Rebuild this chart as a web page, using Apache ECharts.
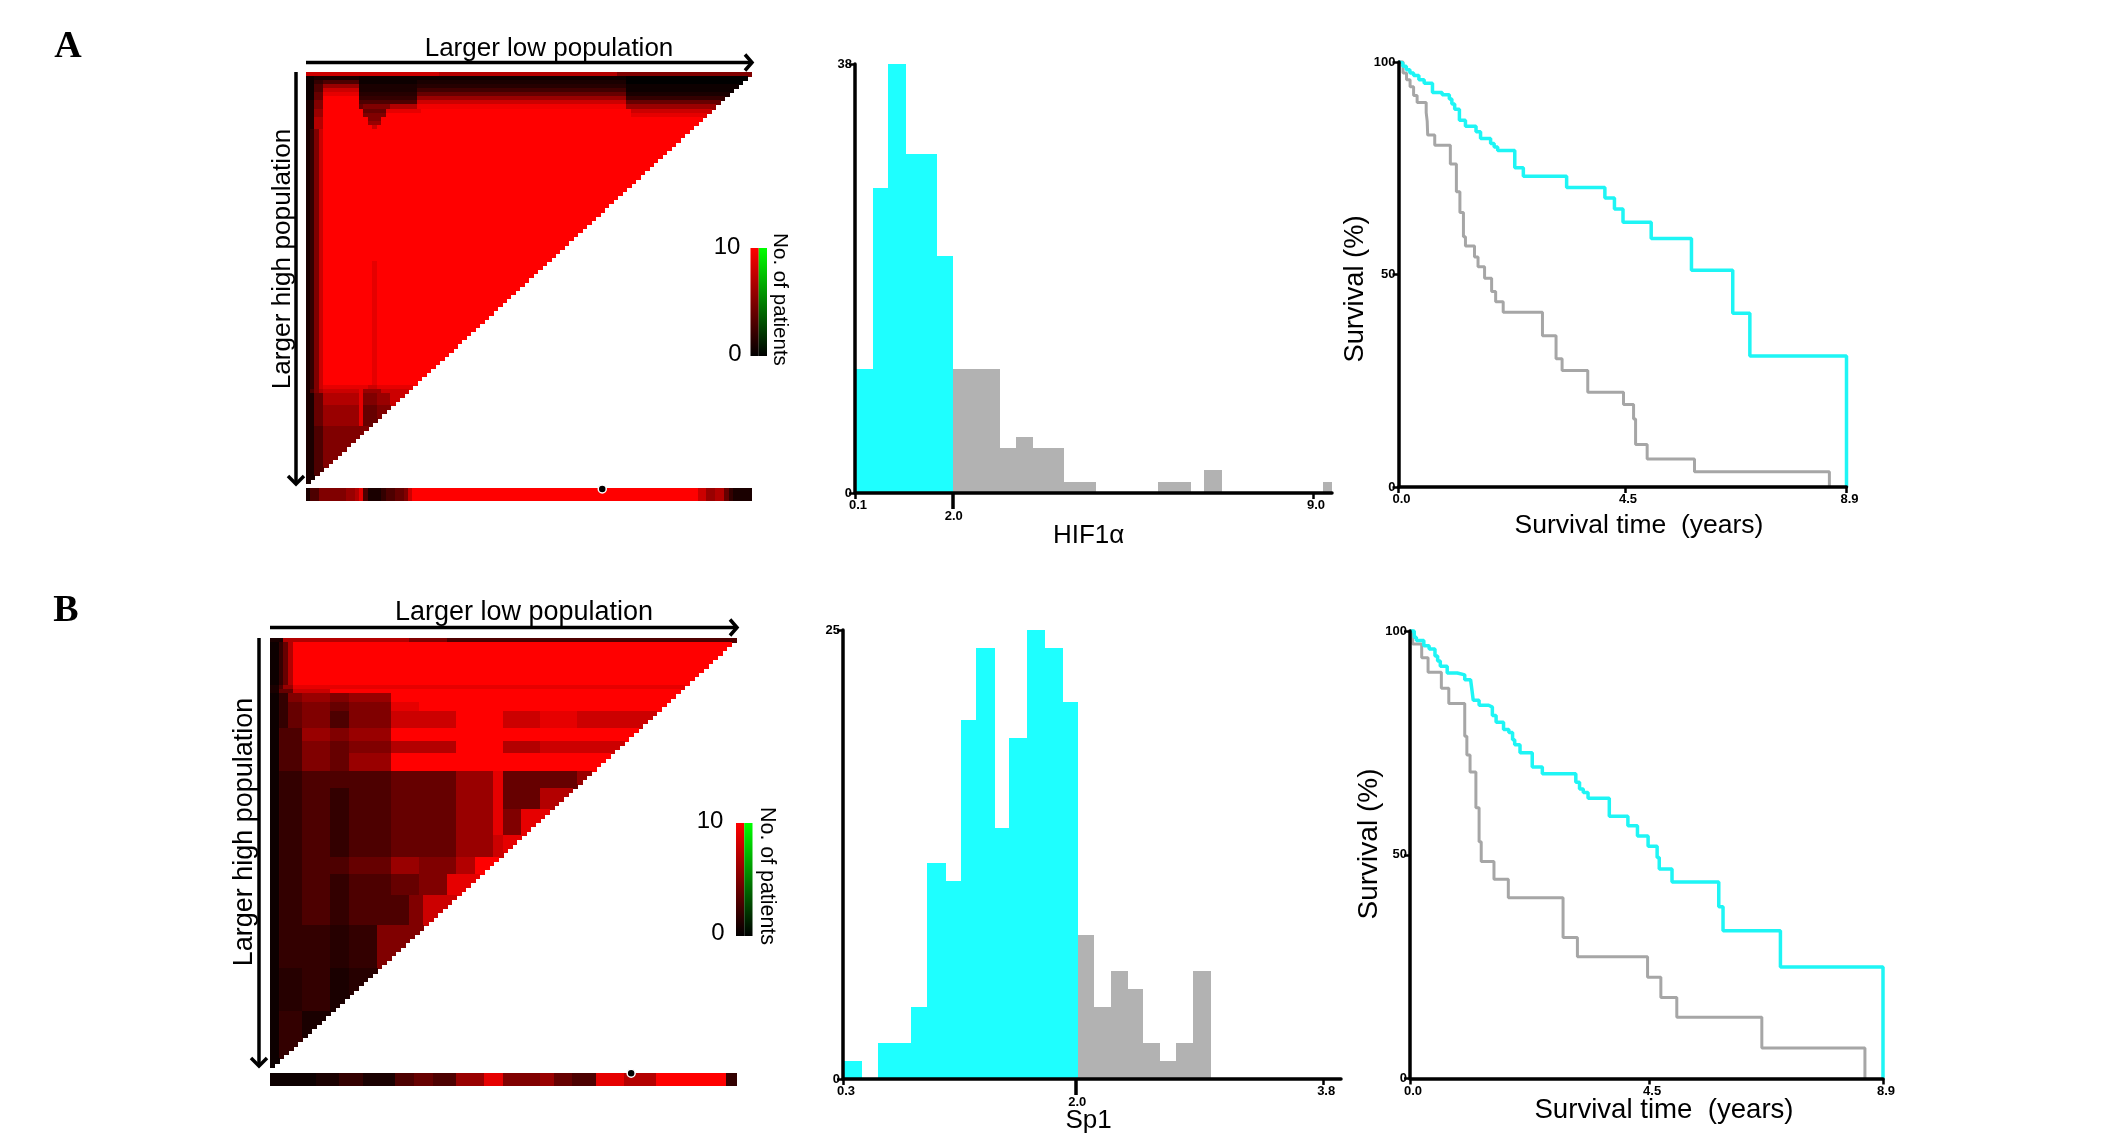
<!DOCTYPE html>
<html>
<head>
<meta charset="utf-8">
<style>html,body{margin:0;padding:0;background:#fff}#c{width:2126px;height:1145px}</style>
<script src="https://cdn.jsdelivr.net/npm/echarts@6/dist/echarts.min.js"></script>
</head>
<body>
<div id="c"></div>
<script>
// ---------- DATA ----------
// Heat tables: [number of rows, "value*run value*run ..."], values 0-10.
const heatRowsA = [
 [1,"8*30 7*40 5*30"],
 [1,"0.5*2 1*10 0.5*13 0.5*47 0*28"],
 [1,"0.5*2 2*2 3*8 0.5*13 1*47 0*28"],
 [1,"0.5*2 3*2 6*8 1*13 1.5*47 0.5*28"],
 [1,"0.5*2 3*2 8*8 1*13 2.5*47 0.5*28"],
 [1,"0.5*2 4*2 9*8 1.5*13 4*47 1*28"],
 [1,"0.5*2 4*2 10*8 2*13 6*47 2*28"],
 [1,"1*2 5*2 10*8 3*2 3*11 8*47 4*28"],
 [1,"1*2 5*2 10*8 4*1 5*6 7*6 9.5*47 6*28"],
 [1,"1*2 6*2 10*9 4*5 9*8 10*47 8*28"],
 [1,"1*2 6*2 10*9 5*5 10*55 9*27"],
 [1,"1*2 7*2 10*10 5*3 10*83"],
 [1,"1*2 7*2 10*10 6*3 10*83"],
 [1,"1*2 7*2 10*11 8*1 10*84"],
 [32,"1*1 2*1 5*1 8*1 10*96"],
 [30,"1*1 2*1 5*1 8*1 10*11 9*1 10*84"],
 [1,"1*1 2*1 5*1 8*1 9*10 8*2 9*84"],
 [1,"1*1 3*1 5*1 7*1 8*8 9*1 6*4 8*6 9*77"],
 [3,"1*2 4*2 7*8 9*1 5*3 6*3 8*81"],
 [5,"1*2 4*2 6*8 9*1 4*3 5*80"],
 [14,"1*2 3*2 5*8 5*88"]
];
const heatRowsB = [
 [1,"1*3 7*27 5*8 3*62"],
 [10,"0.5*2 2*1 4*1 7*1 10*95"],
 [1,"1*2 3*1 6*2 9*95"],
 [1,"1*2 4*3 8*8 10*87"],
 [2,"0.5*2 2*2 5*3 6*6 5*4 6*9 10*74"],
 [2,"0.5*2 2*2 4*3 5*6 4*4 5*9 9*6 10*68"],
 [4,"0.5*2 2*2 4*3 5*6 3*4 5*9 8*6 8*8 10*10 8*8 9*8 8*12 8*22"],
 [3,"0.5*2 3*5 6*6 5*4 6*9 10*74"],
 [3,"0.5*2 3*5 5*6 4*4 5*9 7*14 10*10 7*8 8*8 8*12 9*22"],
 [4,"0.5*2 3*5 5*6 4*4 6*9 10*74"],
 [4,"0.5*2 2*5 3*6 3*4 3*9 4*6 4*8 6*8 9*2 4*8 4*8 6*4 9*30"],
 [5,"0.5*2 2*5 3*6 2*4 3*9 4*6 4*8 6*8 9*2 4*8 7*42"],
 [6,"0.5*2 2*5 3*6 2*4 3*9 4*6 4*8 6*8 9*2 5*4 9*46"],
 [5,"0.5*2 2*5 3*6 2*4 3*9 4*6 4*8 6*8 8*2 9*50"],
 [4,"0.5*2 2*5 3*6 3*4 4*9 6*6 5*8 7*4 10*60"],
 [5,"0.5*2 2*5 3*6 2*4 3*9 4*6 5*6 9*60"],
 [7,"0.5*2 2*5 3*6 2*4 3*9 3*4 5*3 8*70"],
 [10,"0.5*2 2*5 2*6 1.5*4 2*6 5*77"],
 [10,"0.5*2 1.5*5 2*6 1*4 1.5*9 3*74"],
 [14,"0.5*2 2*5 1*6 1*87"]
];
const stripRowA = "1*1 3*2 5*1 5*5 6*2 7*1 9*1 3*1 1*3 2*1 3*2 4*2 5*1 8*1 10*64 8*2 6*2 7*2 4*1 2*1 1*4";
const stripRowB = "0.5*10 1*5 2*5 1*7 3*4 4*4 3*5 6*6 9*4 5*8 6*3 4*4 3*5 9*6 7*7 10*15 2*2";
const cutColA = 66, cutColB = 77;

const histLowA  = [[0.1,0.447,11],[0.447,0.745,27],[0.745,1.09,38],[1.09,1.7,30],[1.7,2.01,21]];
const histHighA = [[2.01,2.92,11],[2.92,3.22,4],[3.22,3.55,5],[3.55,4.17,4],[4.17,4.78,1],[5.98,6.63,1],[6.89,7.23,2],[9.2,9.37,1]];
const histLowB  = [[0.3,0.44,1],[0.555,0.795,2],[0.795,0.915,4],[0.915,1.05,12],[1.05,1.16,11],[1.16,1.27,20],[1.27,1.41,24],[1.41,1.51,14],[1.51,1.64,19],[1.64,1.77,25],[1.77,1.9,24],[1.9,2.01,21]];
const histHighB = [[2.01,2.13,8],[2.13,2.25,4],[2.25,2.375,6],[2.375,2.49,5],[2.49,2.61,2],[2.61,2.73,1],[2.73,2.85,2],[2.85,2.98,6]];

const survLowA = [[0,100],[0.01,99.8],[0.085,99],[0.156,98.2],[0.227,97.4],[0.3,96.8],[0.405,95.8],[0.51,95],[0.675,92.8],[0.867,92.3],[1.01,91.3],[1.06,90.1],[1.116,88.9],[1.21,86.3],[1.33,84.9],[1.54,83.6],[1.63,82],[1.83,80.8],[1.9,80],[1.97,79.2],[2.31,75.1],[2.48,73.1],[3.34,70.5],[4.1,68],[4.29,65.4],[4.46,62.3],[5.02,58.5],[5.82,51],[6.64,40.9],[6.98,30.8],[8.9,0]];
const survHighA = [[0,100],[0.09,97.4],[0.16,95.8],[0.23,94.2],[0.3,92.1],[0.37,90.5],[0.55,88.1],[0.57,86.1],[0.58,82.8],[0.72,80.4],[1.03,76],[1.15,69.5],[1.22,64.6],[1.29,58.9],[1.33,56.7],[1.51,54.1],[1.58,51.8],[1.71,49.1],[1.85,46],[1.93,43.6],[2.08,41.1],[2.86,35.6],[3.13,30.2],[3.25,27.4],[3.76,22.3],[4.47,19.4],[4.67,16],[4.71,10],[4.94,6.6],[5.88,3.6],[8.56,0]];
const survLowB = [[0,100],[0.08,98.6],[0.12,97.9],[0.26,96.7],[0.36,96],[0.47,94.4],[0.52,93.3],[0.57,92.1],[0.7,90.6],[0.89,90.2],[1.03,89.1],[1.14,88.7],[1.17,86.4],[1.19,84.5],[1.3,83.4],[1.48,83],[1.55,81.1],[1.62,79.6],[1.76,78],[1.86,77.3],[1.93,75.7],[1.97,74.6],[2.07,72.8],[2.3,69.6],[2.49,68.1],[3.12,66.2],[3.19,64.7],[3.26,63.9],[3.35,62.6],[3.75,58.6],[4.1,56.5],[4.28,54.2],[4.48,51.9],[4.65,49.4],[4.69,46.8],[4.93,43.9],[5.81,38.4],[5.89,33],[6.97,24.9],[8.9,0]];
const survHighB = [[0,100],[0.05,97.1],[0.22,94],[0.34,90.8],[0.59,87.2],[0.73,83.8],[1.03,76.5],[1.07,72.3],[1.13,68.5],[1.24,60.5],[1.3,52.9],[1.34,48.5],[1.58,44.5],[1.85,40.4],[2.88,31.5],[3.15,27.2],[4.47,22.6],[4.72,18.1],[5.02,13.7],[6.62,6.8],[8.56,0]];

const ticksHistXA = [0.1, 9.0], cutTickA = [2.0], ticksHistYA = [0, 38];
const ticksHistXB = [0.3, 3.8], cutTickB = [2.0], ticksHistYB = [0, 25];
const ticksSurvX = [0.0, 4.5, 8.9], ticksSurvY = [0, 50, 100];

// ---------- BUILD ----------
const CYAN = '#1effff', GREY = '#b2b2b2', LINE_C = '#1ef5f5', LINE_G = '#a6a6a6';
const N = 100;
const idx = Array.from({length:N},(_,i)=>i);

function expand(str){
  const out=[];
  str.trim().split(/\s+/).forEach(t=>{const [v,n]=t.split('*');for(let i=0;i<+n;i++)out.push(+v);});
  return out;
}
function triangle(table){
  const cells=[];let r=0;
  table.forEach(([count,str])=>{
    const vals=expand(str);
    for(let k=0;k<count&&r<N;k++,r++){
      for(let c=0;c<N-r;c++) cells.push([c,r,vals[Math.min(c,vals.length-1)]]);
    }
  });
  return cells;
}
const grids=[],xAxes=[],yAxes=[],series=[],graphics=[];
const heatSeries=[];
const BOLD={fontFamily:'"Liberation Sans",Arial,sans-serif',fontWeight:'bold',fontSize:13,color:'#000'};
const SANS='"Liberation Sans",Arial,sans-serif';

function addGrid(l,r,t,b){grids.push({left:l,top:t,width:r-l,height:b-t,containLabel:false});return grids.length-1;}
function cellItem(p,api){
  const c=api.coord([api.value(0),api.value(1)]),s=api.size([1,1]);
  const w=Math.abs(s[0]),h=Math.abs(s[1]);
  const x0=Math.floor(c[0]-w/2),y0=Math.floor(c[1]-h/2);
  return {type:'rect',silent:true,shape:{x:x0,y:y0,width:Math.ceil(c[0]+w/2)-x0,height:Math.ceil(c[1]+h/2)-y0},style:{fill:api.visual('color')}};
}
function heatSer(xi,yi,data){
  heatSeries.push(series.length);
  series.push({type:'custom',xAxisIndex:xi,yAxisIndex:yi,data,encode:{x:0,y:1},renderItem:cellItem,animation:false,silent:true,progressive:0,clip:false});
}
function heatPanel(box,stripBox,table,stripStr,cutCol,dotOff){
  let g=addGrid(box.l,box.r,box.t,box.b);
  xAxes.push({type:'category',gridIndex:g,data:idx,show:false});
  yAxes.push({type:'category',gridIndex:g,data:idx,inverse:true,show:false});
  heatSer(xAxes.length-1,yAxes.length-1,triangle(table));
  g=addGrid(stripBox.l,stripBox.r,stripBox.t,stripBox.b);
  xAxes.push({type:'category',gridIndex:g,data:idx,show:false});
  yAxes.push({type:'category',gridIndex:g,data:[0],show:false});
  const vals=expand(stripStr);
  heatSer(xAxes.length-1,yAxes.length-1,idx.map(c=>[c,0,vals[Math.min(c,vals.length-1)]]));
  series.push({type:'scatter',xAxisIndex:xAxes.length-1,yAxisIndex:yAxes.length-1,data:[[cutCol,0]],symbolSize:8,symbolOffset:[0,dotOff],z:5,clip:false,
    itemStyle:{color:'#000',borderColor:'#fff',borderWidth:1.5,opacity:1},animation:false});
}
function axisBase(){return{
  axisLine:{show:true,onZero:false,lineStyle:{color:'#000',width:3.5}},
  axisTick:{show:true,length:6,lineStyle:{color:'#000',width:2.5}},
  splitLine:{show:false},z:10
};}
const LABEL_SHIFT=[0,0,0,6];
function histPanel(box,xMin,xMax,xTicks,cutTick,yTicks,low,high){
  const g=addGrid(box.l,box.r,box.t,box.b);
  const a0=xAxes.length;
  xAxes.push(Object.assign(axisBase(),{type:'value',gridIndex:g,min:xMin,max:xMax,
    axisTick:{show:true,length:6,customValues:xTicks,lineStyle:{color:'#000',width:2.5}},
    axisLabel:Object.assign({margin:6,padding:LABEL_SHIFT,customValues:xTicks,formatter:v=>v.toFixed(1)},BOLD)}));
  xAxes.push({type:'value',gridIndex:g,min:xMin,max:xMax,position:'bottom',z:10,
    axisLine:{show:false,onZero:false},splitLine:{show:false},
    axisTick:{show:true,length:16,customValues:cutTick,lineStyle:{color:'#000',width:3.5}},
    axisLabel:Object.assign({margin:17,padding:[0,0,0,2],customValues:cutTick,formatter:v=>v.toFixed(1)},BOLD)});
  yAxes.push(Object.assign(axisBase(),{type:'value',gridIndex:g,min:0,max:yTicks[1],interval:yTicks[1],
    axisLabel:Object.assign({margin:3},BOLD)}));
  const y0=yAxes.length-1;
  [[low,CYAN],[high,GREY]].forEach(([d,col])=>{
    series.push({type:'custom',xAxisIndex:a0,yAxisIndex:y0,data:d,animation:false,
      encode:{x:[0,1],y:2},
      renderItem:(p,api)=>{
        const a=api.coord([api.value(0),api.value(2)]),b=api.coord([api.value(1),0]);
        const x0=Math.round(a[0]),x1=Math.round(b[0]),y0p=Math.round(a[1]);
        return {type:'rect',shape:{x:x0,y:y0p,width:x1-x0,height:Math.round(b[1])-y0p},style:{fill:col}};
      }});
  });
}
function survPanel(box,low,high){
  const g=addGrid(box.l,box.r,box.t,box.b);
  xAxes.push(Object.assign(axisBase(),{type:'value',gridIndex:g,min:0,max:8.9,
    axisTick:{show:true,length:6,customValues:ticksSurvX,lineStyle:{color:'#000',width:2.5}},
    axisLabel:Object.assign({margin:6,padding:LABEL_SHIFT,customValues:ticksSurvX,formatter:v=>v.toFixed(1)},BOLD)}));
  yAxes.push(Object.assign(axisBase(),{type:'value',gridIndex:g,min:0,max:100,interval:50,
    axisLabel:Object.assign({margin:3},BOLD)}));
  [[high,LINE_G,3],[low,LINE_C,3.5]].forEach(([d,col,w])=>{
    series.push({type:'line',xAxisIndex:xAxes.length-1,yAxisIndex:yAxes.length-1,data:d,step:'end',showSymbol:false,clip:false,animation:false,
      lineStyle:{color:col,width:w}});
  });
}
function txt(s,x,y,size,rot,extra){
  graphics.push({type:'text',x,y,rotation:rot||0,z:20,silent:true,
    style:Object.assign({text:s,x:0,y:0,align:'center',verticalAlign:'middle',fontFamily:SANS,fontSize:size,fill:'#000'},extra||{})});
}
function arrowH(x1,x2,y){
  graphics.push({type:'line',z:15,shape:{x1,y1:y,x2:x2-1,y2:y},style:{stroke:'#000',lineWidth:3.5}});
  graphics.push({type:'polyline',z:15,shape:{points:[[x2-7,y-8],[x2,y],[x2-7,y+8]]},style:{stroke:'#000',fill:'none',lineWidth:3.5}});
}
function arrowV(x,y1,y2){
  graphics.push({type:'line',z:15,shape:{x1:x,y1,x2:x,y2:y2-1},style:{stroke:'#000',lineWidth:3.5}});
  graphics.push({type:'polyline',z:15,shape:{points:[[x-8,y2-8],[x,y2],[x+8,y2-8]]},style:{stroke:'#000',fill:'none',lineWidth:3.5}});
}
function colorBar(l,r,t,b){
  const m=(l+r)/2;
  const grad=c=>({type:'linear',x:0,y:0,x2:0,y2:1,colorStops:[{offset:0,color:c},{offset:1,color:'#000'}]});
  graphics.push({type:'rect',z:15,shape:{x:l,y:t,width:m-l,height:b-t},style:{fill:grad('#ff0000')}});
  graphics.push({type:'rect',z:15,shape:{x:m,y:t,width:r-m,height:b-t},style:{fill:grad('#00ff00')}});
}

// Panel A
heatPanel({l:306,r:751.5,t:72,b:484},{l:306,r:751.5,t:488,b:501},heatRowsA,stripRowA,cutColA,-5.5);
histPanel({l:855,r:1332,t:64,b:493},0.1,9.37,ticksHistXA,cutTickA,ticksHistYA,histLowA,histHighA);
survPanel({l:1398.5,r:1846.5,t:62,b:487},survLowA,survHighA);
// Panel B
heatPanel({l:270,r:736,t:638,b:1067.5},{l:270,r:736,t:1073,b:1085.5},heatRowsB,stripRowB,cutColB,-6);
histPanel({l:843,r:1341,t:630,b:1079},0.3,3.93,ticksHistXB,cutTickB,ticksHistYB,histLowB,histHighB);
survPanel({l:1410,r:1883,t:631,b:1078.5},survLowB,survHighB);

// Texts and decorations
txt('A',68,47,38,0,{fontFamily:'"Liberation Serif",serif',fontWeight:'bold'});
txt('B',66,611,38,0,{fontFamily:'"Liberation Serif",serif',fontWeight:'bold'});
txt('Larger low population',549,49,26);
txt('Larger high population',282.5,259,26.2,Math.PI/2);
txt('Larger low population',524,612.5,27);
txt('Larger high population',245,832,27,Math.PI/2);
arrowH(306,752,62.5); arrowV(296,72,484);
arrowH(270,737,627.5); arrowV(259,638,1066);
colorBar(750.5,767,248,356); colorBar(736,752.5,823,936);
txt('10',727,247,24); txt('0',735,354,24);
txt('10',710,821,24); txt('0',718,933,24);
txt('No. of patients',780,299.5,20.6,-Math.PI/2);
txt('No. of patients',767,876,21.4,-Math.PI/2);
txt('HIF1\u03b1',1088.6,535.5,26);
txt('Sp1',1088.6,1121,26);
txt('Survival time  (years)',1639,526,26.5);
txt('Survival time  (years)',1664,1110,27.6);
txt('Survival (%)',1355,289,27.3,Math.PI/2);
txt('Survival (%)',1369,844,28,Math.PI/2);

const chart=echarts.init(document.getElementById('c'),null,{renderer:'canvas'});
chart.setOption({
  animation:false,backgroundColor:'#fff',
  grid:grids,xAxis:xAxes,yAxis:yAxes,series,graphic:graphics,
  visualMap:{type:'continuous',show:false,min:0,max:10,dimension:2,seriesIndex:heatSeries,inRange:{color:['#000000','#ff0000']}}
});
</script>
</body>
</html>
